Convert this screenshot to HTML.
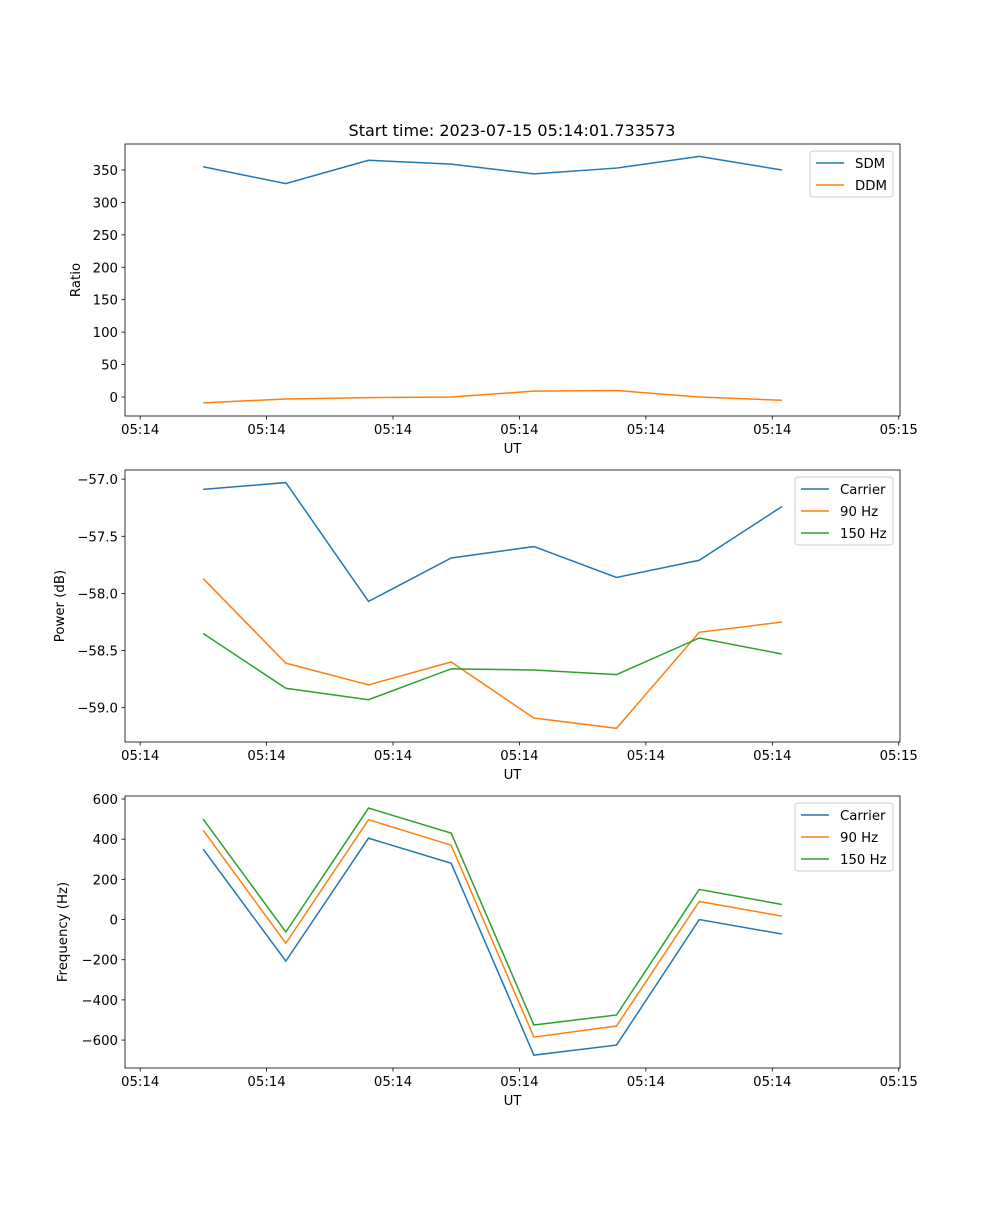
<!DOCTYPE html>
<html><head><meta charset="utf-8"><style>
body{margin:0;background:#fff}
svg text{font-family:"DejaVu Sans","Liberation Sans",sans-serif;font-size:13.3px;fill:#000}
</style></head><body>
<svg id="fig" width="1000" height="1200" xmlns="http://www.w3.org/2000/svg"></svg>
<script>
const times=[4.98,11.52,18.06,24.6,31.14,37.68,44.22,50.76];
const xTickVals=[0,10,20,30,40,50,60];
const xTickLabels=["05:14","05:14","05:14","05:14","05:14","05:14","05:15"];
const sdm=[355,329,365,359,344,353,371,350];
const ddm=[-9,-3,-1,0,9,10,0,-5];
const pCarrier=[-57.09,-57.03,-58.07,-57.69,-57.59,-57.86,-57.71,-57.24];
const p90=[-57.87,-58.61,-58.80,-58.60,-59.09,-59.18,-58.34,-58.25];
const p150=[-58.35,-58.83,-58.93,-58.66,-58.67,-58.71,-58.39,-58.53];
const fCarrier=[351,-207,405,280,-675,-625,0,-72];
const f90=[445,-118,497,370,-585,-530,90,17];
const f150=[500,-62,555,430,-525,-475,150,75];
const ticks1=[0,50,100,150,200,250,300,350];
const ticks2=[-59.0,-58.5,-58.0,-57.5,-57.0];
const ticks3=[-600,-400,-200,0,200,400,600];
const C=["#1f77b4","#ff7f0e","#2ca02c"];
const svg=document.getElementById('fig');
const NS="http://www.w3.org/2000/svg";
function mk(tag,attrs,parent){const e=document.createElementNS(NS,tag);for(const k in attrs)e.setAttribute(k,attrs[k]);(parent||svg).appendChild(e);return e;}
const L=125,R=900,xmin=-1.2,xmax=60.1;
const xs=v=>L+(v-xmin)/(xmax-xmin)*(R-L);
function panel(name,top,bot,ymin,ymax,yticks,fmt,ylabel,series,names,legW,legX){
  const g=mk('g',{});
  
  
  const ys=v=>bot-(v-ymin)/(ymax-ymin)*(bot-top);
  series.forEach((s,i)=>{
    const p=mk('polyline',{points:s.map((v,j)=>xs(times[j])+','+ys(v)).join(' '),fill:'none',stroke:C[i],'stroke-width':1.5},g);
    
    
  });
  const fr=mk('rect',{x:L,y:top,width:R-L,height:bot-top,fill:'none',stroke:'#000','stroke-width':0.8},g);
  
  
  xTickVals.forEach((v,i)=>{const x=xs(v);mk('line',{x1:x,x2:x,y1:bot,y2:bot+3.5,stroke:'#000','stroke-width':0.8},g);
    const t=mk('text',{x:x,y:bot+18,'text-anchor':'middle'},g);t.textContent=xTickLabels[i];
    
    });
  yticks.forEach(v=>{const y=ys(v);mk('line',{x1:L-3.5,x2:L,y1:y,y2:y,stroke:'#000','stroke-width':0.8},g);
    const t=mk('text',{x:L-7,y:y+5,'text-anchor':'end'},g);t.textContent=fmt(v);
    
    });
  const xl=mk('text',{x:(L+R)/2,y:bot+37,'text-anchor':'middle'},g);xl.textContent='UT';
  
  
  const yl=mk('text',{x:0,y:0,'text-anchor':'middle',transform:`translate(${ylabel[1]},${(top+bot)/2}) rotate(-90)`},g);yl.textContent=ylabel[0];
  
  
  const lg=mk('g',{},g);
  
  
  mk('rect',{x:legX,y:top+7,width:legW,height:names.length*22+2,rx:3,fill:'#fff',stroke:'#ccc','stroke-width':1},lg);
  names.forEach((n,i)=>{const y=top+19+i*22;mk('line',{x1:legX+6,x2:legX+34,y1:y,y2:y,stroke:C[i],'stroke-width':1.5},lg);
    const t=mk('text',{x:legX+45,y:y+5},lg);t.textContent=n;
    
    });
}
const fmtI=v=>String(v).replace('-','\u2212');
const fmtF=v=>v.toFixed(1).replace('-','\u2212');
panel('ratio',144,416,-29.3,390.1,ticks1,fmtI,['Ratio',80],[sdm,ddm],['SDM','DDM'],83,810);
panel('power',470,742,-59.30,-56.92,ticks2,fmtF,['Power (dB)',64],[pCarrier,p90,p150],['Carrier','90 Hz','150 Hz'],98,795);
panel('frequency',796,1068,-739,615,ticks3,fmtI,['Frequency (Hz)',67],[fCarrier,f90,f150],['Carrier','90 Hz','150 Hz'],98,795);
const tt=mk('text',{x:512,y:136,'text-anchor':'middle','font-size':'16px',style:'font-size:16px'});
tt.textContent='Start time: 2023-07-15 05:14:01.733573';


</script>
</body></html>
